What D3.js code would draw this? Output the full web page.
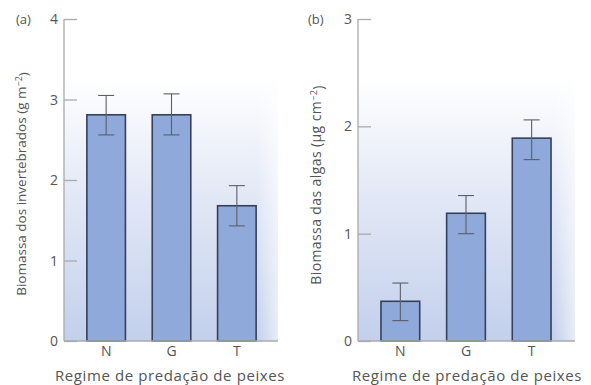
<!DOCTYPE html>
<html>
<head>
<meta charset="utf-8">
<script src="https://cdn.jsdelivr.net/npm/d3@7"></script>
<style>
  body { margin: 0; background: #fff; }
  text { font-family: "Open Sans", "DejaVu Sans", sans-serif; fill: #555; }
</style>
</head>
<body>
<svg id="chart" width="591" height="385"></svg>
<script>
var categories = ["N", "G", "T"];

// painel (a) invertebrados
var invValues = [2.81, 2.81, 1.68];
var invErrLow = [2.56, 2.56, 1.43];
var invErrHigh = [3.05, 3.07, 1.93];
var invTicks = [0, 1, 2, 3, 4];

// painel (b) algas
var algValues = [0.37, 1.19, 1.89];
var algErrLow = [0.19, 1.0, 1.69];
var algErrHigh = [0.54, 1.355, 2.06];
var algTicks = [0, 1, 2, 3];

var svg = d3.select("#chart");

var defs = svg.append("defs");
var grad = defs.append("linearGradient")
  .attr("id", "bg-grad")
  .attr("x1", 0).attr("y1", 1).attr("x2", 0).attr("y2", 0);
grad.append("stop").attr("offset", "0%").attr("stop-color", "#c3d0ec");
grad.append("stop").attr("offset", "55%").attr("stop-color", "#e2e8f6");
grad.append("stop").attr("offset", "100%").attr("stop-color", "#ffffff");

var gradH = defs.append("linearGradient")
  .attr("id", "bg-fade")
  .attr("x1", 0).attr("y1", 0).attr("x2", 1).attr("y2", 0);
gradH.append("stop").attr("offset", "90%").attr("stop-color", "#fff").attr("stop-opacity", 0);
gradH.append("stop").attr("offset", "100%").attr("stop-color", "#fff").attr("stop-opacity", 0.6);

var drawPanel = function(opts) {
  var g = svg.append("g");

  var y = d3.scaleLinear()
    .domain([0, opts.max])
    .range([341, 19]);

  var x = d3.scaleBand()
    .domain(categories)
    .range([opts.left, opts.right])
    .paddingInner(0.41)
    .paddingOuter(0.35);

  // gradient background
  g.append("rect")
    .attr("x", opts.left)
    .attr("y", opts.bgTop)
    .attr("width", opts.bgRight - opts.left)
    .attr("height", 341 - opts.bgTop)
    .attr("fill", "url(#bg-grad)");
  g.append("rect")
    .attr("x", opts.left)
    .attr("y", opts.bgTop)
    .attr("width", opts.bgRight - opts.left)
    .attr("height", 341 - opts.bgTop)
    .attr("fill", "url(#bg-fade)");

  // bars
  g.selectAll("rect.bar")
    .data(opts.values)
    .enter().append("rect")
    .attr("class", "bar")
    .attr("x", function(d, i) { return x(categories[i]); })
    .attr("y", function(d) { return y(d); })
    .attr("width", x.bandwidth())
    .attr("height", function(d) { return y(0) - y(d); })
    .attr("fill", "#8fa9da")
    .attr("stroke", "#34405c")
    .attr("stroke-width", 1.6);

  // error bars
  var eb = g.selectAll("g.err")
    .data(opts.values)
    .enter().append("g")
    .attr("class", "err")
    .attr("stroke", "#5a5f6a")
    .attr("stroke-width", 1.1);
  eb.append("line")
    .attr("x1", function(d, i) { return x(categories[i]) + x.bandwidth() / 2; })
    .attr("x2", function(d, i) { return x(categories[i]) + x.bandwidth() / 2; })
    .attr("y1", function(d, i) { return y(opts.low[i]); })
    .attr("y2", function(d, i) { return y(opts.high[i]); });
  [opts.low, opts.high].forEach(function(arr) {
    eb.append("line")
      .attr("x1", function(d, i) { return x(categories[i]) + x.bandwidth() / 2 - 8; })
      .attr("x2", function(d, i) { return x(categories[i]) + x.bandwidth() / 2 + 8; })
      .attr("y1", function(d, i) { return y(arr[i]); })
      .attr("y2", function(d, i) { return y(arr[i]); });
  });

  // y axis
  var yAxis = g.append("g")
    .attr("transform", "translate(" + opts.left + ",0)")
    .call(d3.axisRight(y).tickValues(opts.ticks).tickSize(13).tickFormat(""));
  yAxis.select(".domain").attr("stroke", "#aaa").attr("stroke-width", 1.3)
    .attr("d", "M0," + y(0) + "V" + y(opts.max));
  yAxis.selectAll(".tick line").attr("stroke", "#aaa").attr("stroke-width", 1.3);

  g.selectAll("text.ytick")
    .data(opts.ticks)
    .enter().append("text")
    .attr("class", "ytick")
    .attr("x", opts.left - 6)
    .attr("y", function(d) { return y(d); })
    .attr("dy", "0.36em")
    .attr("text-anchor", "end")
    .style("font-size", "14px")
    .text(function(d) { return d; });

  // x axis
  var xAxis = g.append("g")
    .attr("transform", "translate(0," + y(0) + ")")
    .call(d3.axisBottom(x).tickSize(0).tickPadding(5));
  xAxis.select(".domain").attr("stroke", "#aaa").attr("stroke-width", 1.3)
    .attr("d", "M" + opts.left + ",0H" + opts.bgRight);
  xAxis.selectAll("text")
    .style("font-size", "14px")
    .style("font-family", "'Open Sans', sans-serif")
    .attr("fill", "#555");

  g.append("text")
    .attr("x", opts.titleX)
    .attr("y", 381)
    .attr("text-anchor", "middle")
    .style("font-size", "15px")
    .style("letter-spacing", "0.6px")
    .text("Regime de predação de peixes");

  // y label
  var yl = g.append("text")
    .attr("transform", "translate(" + opts.ylabelX + "," + opts.ylabelY + ") rotate(-90)")
    .attr("text-anchor", "middle")
    .style("font-size", opts.ylabelSize)
    .style("letter-spacing", opts.ylabelSpacing);
  yl.append("tspan").text(opts.ylabel);
  yl.append("tspan").attr("dy", "-0.45em").style("font-size", "9px").text("−2");
  yl.append("tspan").attr("dy", "0.45em").text(")");

  g.append("text")
    .attr("x", opts.tagX)
    .attr("y", 19)
    .attr("dy", "0.36em")
    .style("font-size", "13px")
    .text(opts.tag);
};

drawPanel({
  values: invValues, low: invErrLow, high: invErrHigh, ticks: invTicks, max: 4,
  left: 64, right: 279, bgRight: 278, bgTop: 78,
  titleX: 170, ylabelX: 26, ylabelY: 184,
  ylabel: "Biomassa dos invertebrados (g m", ylabelSize: "13.5px", ylabelSpacing: "0px",
  tag: "(a)", tagX: 16
});

drawPanel({
  values: algValues, low: algErrLow, high: algErrHigh, ticks: algTicks, max: 3,
  left: 358, right: 574, bgRight: 575, bgTop: 78,
  titleX: 467, ylabelX: 321, ylabelY: 185,
  ylabel: "Biomassa das algas (µg cm", ylabelSize: "14px", ylabelSpacing: "0.4px",
  tag: "(b)", tagX: 308
});
</script>
</body>
</html>
